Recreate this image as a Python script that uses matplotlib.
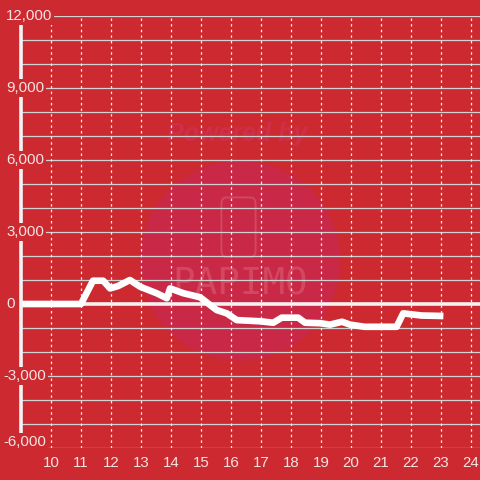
import matplotlib
matplotlib.use("Agg")
import matplotlib.pyplot as plt
from matplotlib.patches import Ellipse, FancyBboxPatch

plt.rcParams['font.family'] = ['Liberation Sans', 'DejaVu Sans']

hours = [9.0, 11.0, 11.4, 11.74, 11.97, 12.24, 12.63, 12.97, 13.52, 13.86, 13.97,
         14.41, 14.97, 15.52, 15.86, 16.19, 16.97, 17.41, 17.69, 18.24, 18.47,
         18.97, 19.3, 19.7, 19.97, 20.45, 21.52, 21.74, 22.35, 23.08]
values = [0, 0, 970, 970, 650, 750, 1000, 720, 450, 240, 650,
          450, 280, -250, -390, -670, -720, -780, -570, -570, -780,
          -800, -860, -740, -860, -950, -950, -390, -480, -500]

x_ticks = list(range(10, 25))
y_ticks = [-6000, -3000, 0, 3000, 6000, 9000, 12000]
y_tick_labels = ['-6,000', '-3,000', '0', '3,000', '6,000', '9,000', '12,000']

BG = '#cc2a30'
TXT = '#f3e4e4'

fig = plt.figure(figsize=(4.8, 4.8), dpi=100, facecolor=BG)
ax = fig.add_axes([21 / 480, 32 / 480, 1 - 21 / 480, 432 / 480])
ax.set_facecolor(BG)
ax.set_xlim(9, 24.3)
ax.set_ylim(-6000, 12000)

# watermark
ax.add_patch(Ellipse((16.3, 1800), 6.67, 8333, facecolor='#c92846', edgecolor='none', zorder=0))
ax.text(16.2, 7100, 'Powered by', ha='center', va='center', fontsize=18, fontweight='bold',
        style='italic', color='#ce2f4a', zorder=0.5)
ax.add_patch(FancyBboxPatch((15.7, 2000), 1.1, 2400, boxstyle='round,pad=0.02,rounding_size=0.15',
                            facecolor='none', edgecolor='#d24860', lw=1.4, zorder=0.5, mutation_aspect=2000))
ax.text(16.3, 800, 'PAPIMO', ha='center', va='center', fontsize=27, color='#d24860',
        family='DejaVu Sans Mono', zorder=0.5)

# grid
for yv in range(-6000, 12001, 1000):
    if yv == 0:
        continue
    ax.axhline(yv, color='#d2d2d2', lw=0.9, zorder=1)
for xv in x_ticks:
    ax.axvline(xv, color='#eeeeee', lw=0.9, ls=(0, (2, 2.5)), zorder=1)
ax.axhline(0, color='#f2f2f2', lw=2.6, zorder=2)

ax.plot(hours, values, color='white', lw=4.8, solid_joinstyle='round', solid_capstyle='butt', zorder=3)

for s in ['top', 'right', 'bottom']:
    ax.spines[s].set_visible(False)
ax.spines['left'].set_color('#f4f4f4')
ax.spines['left'].set_linewidth(2.6)
ax.spines['left'].set_zorder(4)

ax.set_xticks(x_ticks)
ax.set_xticklabels([str(v) for v in x_ticks], color=TXT, fontsize=10.8)
ax.tick_params(axis='x', length=0, pad=6)
ax.set_yticks(y_ticks)
ax.set_yticklabels([])
ax.tick_params(axis='y', length=0)

for yv, lab in zip(y_ticks, y_tick_labels):
    xpos = 6 if not lab.startswith('-') else 3
    ypix = ax.transData.transform((0, yv))[1]
    if yv == -6000:
        ypix += 6
    ax.text(xpos / 480, ypix / 480, lab,
            transform=fig.transFigure, ha='left', va='center', fontsize=10.8, color=TXT,
            bbox=dict(facecolor=BG, edgecolor='none', pad=1.5), zorder=10)

fig.savefig('out.png', dpi=100, facecolor=BG)
